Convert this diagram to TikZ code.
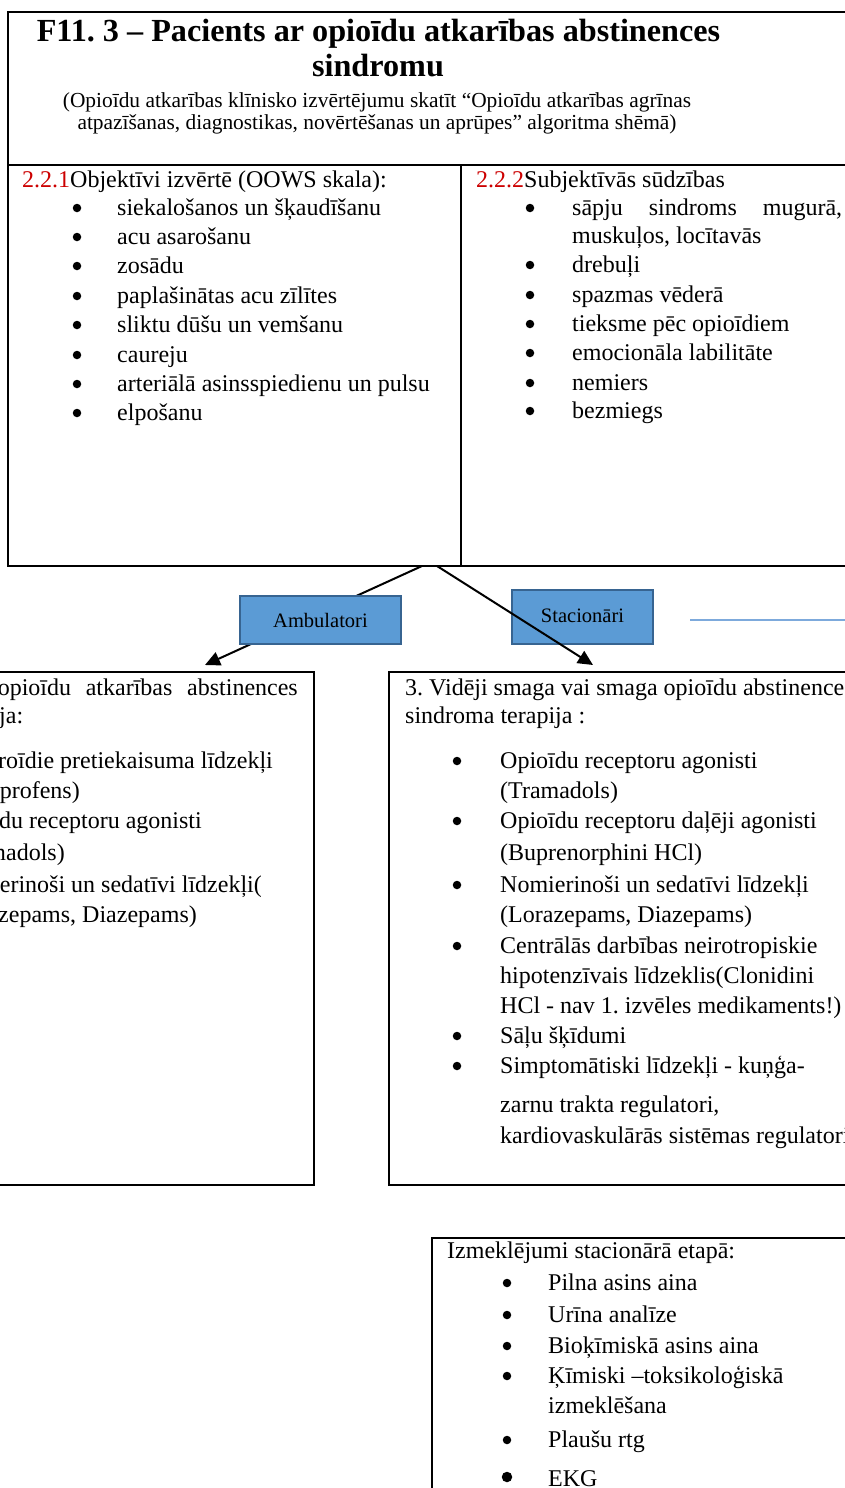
\documentclass[tikz,border=0pt]{standalone}
\usepackage{fontspec}
\setmainfont{Liberation Serif}
\usetikzlibrary{arrows.meta}
\definecolor{boxblue}{RGB}{91,155,213}
\definecolor{boxedge}{RGB}{55,100,145}
\definecolor{lineblue}{RGB}{125,170,220}
\definecolor{numred}{RGB}{204,0,0}
\frenchspacing
\begin{document}
\begin{tikzpicture}[x=1pt,y=-1pt,
  txt/.style={anchor=base west,inner sep=0pt,font=\fontsize{24}{28}\selectfont},
  txte/.style={anchor=base east,inner sep=0pt,font=\fontsize{24}{28}\selectfont},
  frame/.style={draw=black,line width=2pt,inner sep=0pt,outer sep=0pt,anchor=north west},
  bluebox/.style={draw=boxedge,line width=2pt,fill=boxblue,inner sep=0pt,font=\fontsize{20.5}{24}\selectfont},
  conn/.style={line width=2pt,-{Triangle[length=15pt,width=14pt]}},
  dot/.style={circle,fill=black,inner sep=0pt,minimum size=8.5pt},
  bigdot/.style={circle,fill=black,inner sep=0pt,minimum size=10.5pt}
]
\useasboundingbox (0,0) rectangle (845,1488);
\clip (0,0) rectangle (845,1488);

% ---------- top frame ----------
\node[frame,minimum width=870pt,minimum height=554pt] (top) at (8,12) {};
\draw[line width=2pt] (8,165) -- (870,165);
\draw[line width=1.5pt] (461,165) -- (461,566);

\node[anchor=base,inner sep=0pt,font=\fontsize{32.2}{36}\selectfont\bfseries] (title1) at (378.5,42) {F11. 3 – Pacients ar opioīdu atkarības abstinences};
\node[anchor=base,inner sep=0pt,font=\fontsize{32.2}{36}\selectfont\bfseries] (title2) at (378,77) {sindromu};
\node[anchor=base,inner sep=0pt,font=\fontsize{21.4}{24}\selectfont] (sub1) at (377,107) {(Opioīdu atkarības klīnisko izvērtējumu skatīt “Opioīdu atkarības agrīnas};
\node[anchor=base,inner sep=0pt,font=\fontsize{21.4}{24}\selectfont] (sub2) at (377,129) {atpazīšanas, diagnostikas, novērtēšanas un aprūpes” algoritma shēmā)};

% left column
\node[txt] (lh) at (22,187) {\textcolor{numred}{2.2.1}Objektīvi izvērtē (OOWS skala):};
\node[dot] (lb1) at (77,208) {}; \node[txt] (l1) at (117,215) {siekalošanos un šķaudīšanu};
\node[dot] (lb2) at (77,237) {}; \node[txt] (l2) at (117,244) {acu asarošanu};
\node[dot] (lb3) at (77,266) {}; \node[txt] (l3) at (117,273) {zosādu};
\node[dot] (lb4) at (77,296) {}; \node[txt] (l4) at (117,303) {paplašinātas acu zīlītes};
\node[dot] (lb5) at (77,325) {}; \node[txt] (l5) at (117,332) {sliktu dūšu un vemšanu};
\node[dot] (lb6) at (77,355) {}; \node[txt] (l6) at (117,362) {caureju};
\node[dot] (lb7) at (77,384) {}; \node[txt] (l7) at (117,391) {arteriālā asinsspiedienu un pulsu};
\node[dot] (lb8) at (77,413) {}; \node[txt] (l8) at (117,420) {elpošanu};

% right column
\node[txt] (rh) at (476,187) {\textcolor{numred}{2.2.2}Subjektīvās sūdzības};
\node[dot] (rb1) at (530,208) {}; \node[txt] (r1) at (572,215) {\hbox to 270pt{sāpju\hfill sindroms\hfill mugurā,}};
\node[txt] (r1b) at (572,243) {muskuļos, locītavās};
\node[dot] (rb2) at (530,265) {}; \node[txt] (r2) at (572,272) {drebuļi};
\node[dot] (rb3) at (530,295) {}; \node[txt] (r3) at (572,302) {spazmas vēderā};
\node[dot] (rb4) at (530,324) {}; \node[txt] (r4) at (572,331) {tieksme pēc opioīdiem};
\node[dot] (rb5) at (530,353) {}; \node[txt] (r5) at (572,360) {emocionāla labilitāte};
\node[dot] (rb6) at (530,383) {}; \node[txt] (r6) at (572,390) {nemiers};
\node[dot] (rb7) at (530,411) {}; \node[txt] (r7) at (572,418) {bezmiegs};

% ---------- connectors and labels ----------
\coordinate (a1s) at (422,566);
\coordinate (a1e) at (205,665);
\coordinate (a2s) at (437,566);
\coordinate (a2e) at (593,665);
\draw[conn] (a1s) -- (a1e);
\node[bluebox,minimum width=161pt,minimum height=48pt] (amb) at (320.5,620) {Ambulatori};
\node[bluebox,minimum width=141pt,minimum height=54pt] (stac) at (582.5,617) {\raisebox{3pt}{Stacionāri}};
\draw[conn] (a2s) -- (a2e);
\coordinate (lbs) at (690,620);
\coordinate (lbe) at (860,620);
\draw[lineblue,line width=1.5pt] (lbs) -- (lbe);

% ---------- bottom left frame ----------
\node[frame,minimum width=334pt,minimum height=513pt] (left) at (-20,672) {};
\node[txte] (bl0) at (298,695) {\hbox to 300pt{opioīdu\hfill atkarības\hfill abstinences}};
\node[txt] (bl0b) at (-1,723) {ja:};
\node[txte] (bl1) at (273,768) {roīdie pretiekaisuma līdzekļi};
\node[txte] (bl1b) at (80,798) {profens)};
\node[txte] (bl2) at (202,828) {oīdu receptoru agonisti};
\node[txte] (bl2b) at (65,860) {madols)};
\node[txte] (bl3) at (262,892) {merinoši un sedatīvi līdzekļi(};
\node[txte] (bl3b) at (197,922) {azepams, Diazepams)};

% ---------- bottom right frame ----------
\node[frame,minimum width=480pt,minimum height=513pt] (right) at (389,672) {};
\node[txt] (br0) at (405,695) {3. Vidēji smaga vai smaga opioīdu abstinences};
\node[txt] (br0b) at (405,723) {sindroma terapija :};
\node[dot] (bb1) at (457,761) {}; \node[txt] (br1) at (500,768) {Opioīdu receptoru agonisti};
\node[txt] (br1b) at (500,798) {(Tramadols)};
\node[dot] (bb2) at (457,821) {}; \node[txt] (br2) at (500,828) {Opioīdu receptoru daļēji agonisti};
\node[txt] (br2b) at (500,860) {(Buprenorphini HCl)};
\node[dot] (bb3) at (457,885) {}; \node[txt] (br3) at (500,892) {Nomierinoši un sedatīvi līdzekļi};
\node[txt] (br3b) at (500,922) {(Lorazepams, Diazepams)};
\node[dot] (bb4) at (457,946) {}; \node[txt] (br4) at (500,953) {Centrālās darbības neirotropiskie};
\node[txt] (br4b) at (500,983) {hipotenzīvais līdzeklis(Clonidini};
\node[txt] (br4c) at (500,1013) {HCl - nav 1. izvēles medikaments!)};
\node[dot] (bb5) at (457,1036) {}; \node[txt] (br5) at (500,1043) {Sāļu šķīdumi};
\node[dot] (bb6) at (457,1066) {}; \node[txt] (br6) at (500,1073) {Simptomātiski līdzekļi - kuņģa-};
\node[txt] (br6b) at (500,1112) {zarnu trakta regulatori,};
\node[txt] (br6c) at (500,1143) {kardiovaskulārās sistēmas regulatori};

% ---------- bottom frame ----------
\node[frame,minimum width=440pt,minimum height=300pt] (exam) at (432,1238) {};
\node[txt] (e0) at (447,1258) {Izmeklējumi stacionārā etapā:};
\node[dot] (eb1) at (507,1283) {}; \node[txt] (e1) at (548,1290) {Pilna asins aina};
\node[dot] (eb2) at (507,1315) {}; \node[txt] (e2) at (548,1322) {Urīna analīze};
\node[dot] (eb3) at (507,1346) {}; \node[txt] (e3) at (548,1353) {Bioķīmiskā asins aina};
\node[dot] (eb4) at (507,1376) {}; \node[txt] (e4) at (548,1383) {Ķīmiski –toksikoloģiskā};
\node[txt] (e4b) at (548,1413) {izmeklēšana};
\node[dot] (eb5) at (507,1440) {}; \node[txt] (e5) at (548,1447) {Plaušu rtg};
\node[bigdot] (eb6) at (507,1477) {}; \node[txt] (e6) at (548,1486) {EKG};
\end{tikzpicture}
\end{document}
